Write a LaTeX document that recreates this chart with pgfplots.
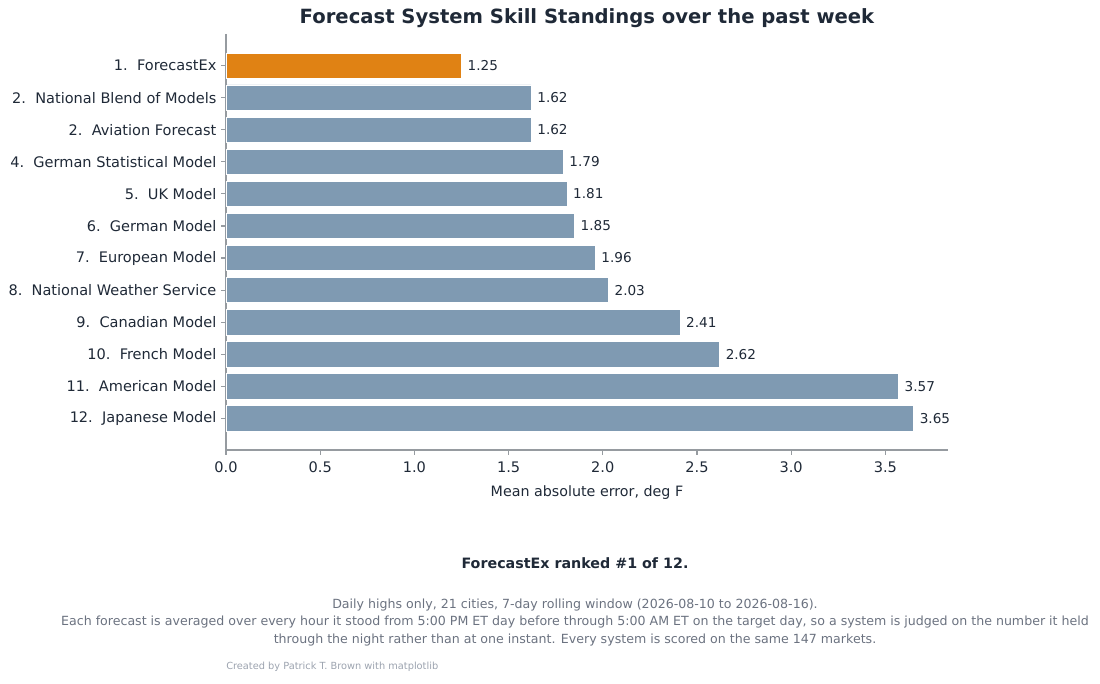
\documentclass[border=0pt]{standalone}
\usepackage{pgfplots}
\pgfplotsset{compat=1.18}
\usepackage{fontspec}
\setmainfont{DejaVu Sans}
\definecolor{orangebar}{RGB}{224,130,20}
\definecolor{bluebar}{RGB}{127,154,178}
\definecolor{darktext}{RGB}{31,41,55}
\definecolor{graytext}{RGB}{107,114,128}
\definecolor{lighttext}{RGB}{156,163,175}
\definecolor{spine}{RGB}{150,155,160}
\begin{document}
\begin{tikzpicture}
\path[use as bounding box] (0pt,0pt) rectangle (825pt,513pt);
\begin{axis}[
  at={(169.5pt,175.5pt)}, anchor=south west,
  scale only axis, width=541.5pt, height=312pt,
  xbar, bar width=0.8, bar shift=0pt,
  xmin=0, xmax=3.8325,
  ymin=-0.99, ymax=11.99, y dir=reverse,
  ytick={0,...,11},
  yticklabels={{1.\ \ ForecastEx},{2.\ \ National Blend of Models},{2.\ \ Aviation Forecast},{4.\ \ German Statistical Model},{5.\ \ UK Model},{6.\ \ German Model},{7.\ \ European Model},{8.\ \ National Weather Service},{9.\ \ Canadian Model},{10.\ \ French Model},{11.\ \ American Model},{12.\ \ Japanese Model}},
  xtick={0,0.5,...,3.5},
  xticklabel style={yshift=-1.5pt,/pgf/number format/.cd,fixed,fixed zerofill,precision=1},
  /pgf/number format/assume math mode=true,
  ticklabel style={font=\fontsize{10.9}{13}\selectfont, text=darktext},
  xlabel={Mean absolute error, deg F},
  xlabel style={font=\fontsize{10.7}{12}\selectfont, text=darktext, yshift=-3pt},
  axis x line*=bottom, axis y line*=left,
  axis line style={spine, line width=0.8pt, -},
  tick style={spine, line width=0.8pt},
  tick align=outside, major tick length=3.7pt,
  xtick pos=bottom, ytick pos=left,
  nodes near coords={\pgfmathprintnumber[fixed,fixed zerofill,precision=2]{\pgfplotspointmeta}},
  point meta=x,
  nodes near coords style={anchor=west, xshift=1pt, font=\fontsize{10.2}{12}\selectfont, text=darktext},
  clip=false,
]
\addplot[fill=orangebar, draw=white, line width=0.6pt] coordinates {(1.25,0)};
\addplot[fill=bluebar, draw=white, line width=0.6pt] coordinates {
(1.62,1) (1.62,2) (1.79,3) (1.81,4) (1.85,5) (1.96,6) (2.03,7) (2.41,8) (2.62,9) (3.57,10) (3.65,11)};
\end{axis}
\node[font=\bfseries\fontsize{14.7}{18}\selectfont, text=darktext] at (440.25pt,499.5pt) {Forecast System Skill Standings over the past week};
\node[font=\bfseries\fontsize{10.7}{12}\selectfont, text=darktext] at (431.25pt,90.75pt) {ForecastEx ranked \#1 of 12.};
\node[font=\fontsize{9.45}{11}\selectfont, text=graytext] at (431.25pt,59.25pt) {Daily highs only, 21 cities, 7-day rolling window (2026-08-10 to 2026-08-16).};
\node[font=\fontsize{9.45}{11}\selectfont, text=graytext] at (431.25pt,46.25pt) {Each forecast is averaged over every hour it stood from 5:00 PM ET day before through 5:00 AM ET on the target day, so a system is judged on the number it held};
\node[font=\fontsize{9.45}{11}\selectfont, text=graytext] at (431.25pt,33pt) {through the night rather than at one instant. Every system is scored on the same 147 markets.};
\node[font=\fontsize{7.35}{9}\selectfont, text=lighttext, anchor=west, inner xsep=0pt] at (169.5pt,12.75pt) {Created by Patrick T. Brown with matplotlib};
\end{tikzpicture}
\end{document}
